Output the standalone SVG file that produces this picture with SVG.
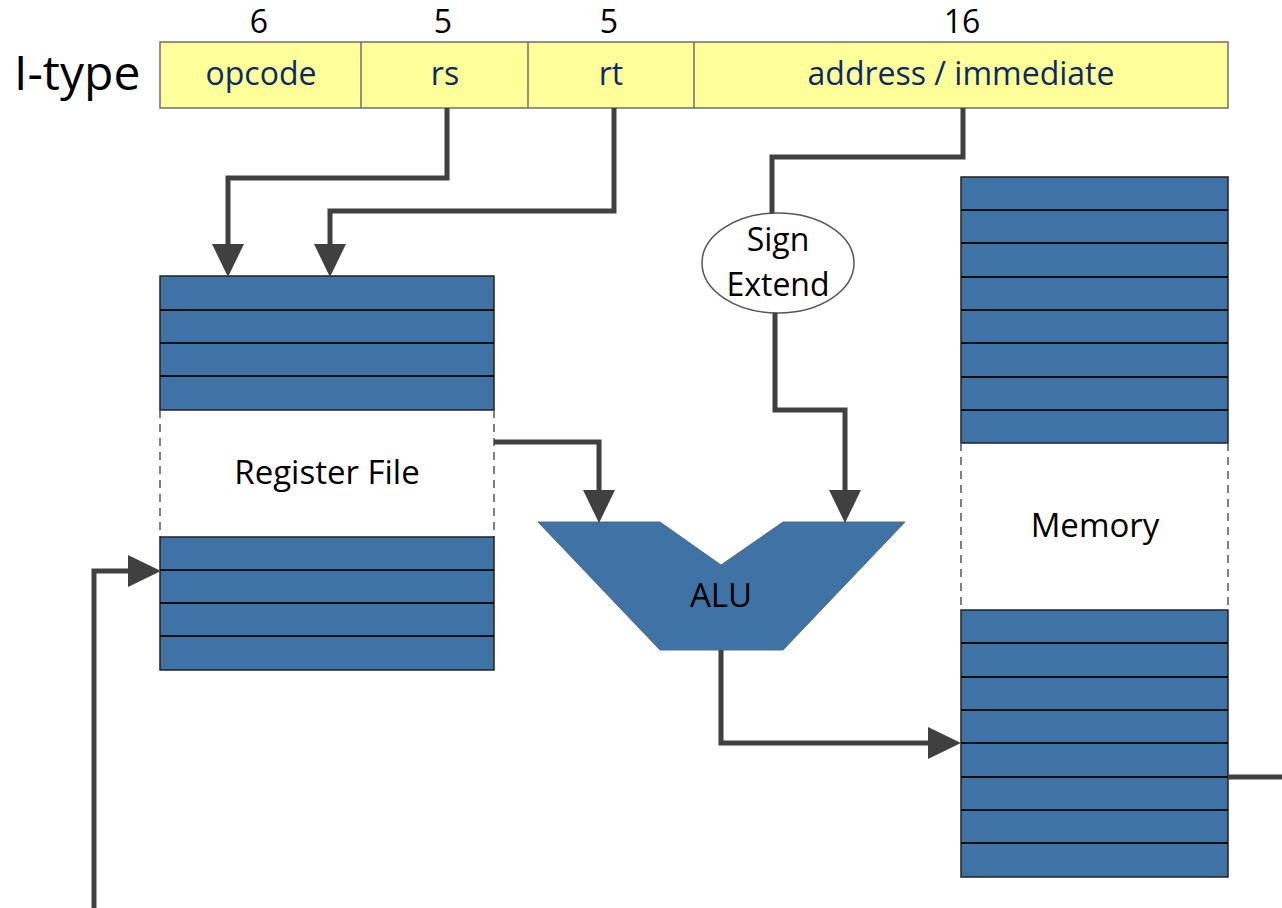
<svg xmlns="http://www.w3.org/2000/svg" width="1282" height="908" viewBox="0 0 1282 908">
<style>
.t{font-family:"Open Sans","Liberation Sans",sans-serif;fill:#000}
.f{font-family:"Open Sans","Liberation Sans",sans-serif;fill:#0c2a66;font-size:32px}
.n{font-family:"Open Sans","Liberation Sans",sans-serif;fill:#000;font-size:32px}
.fld{fill:#ffff99;stroke:#6e6e6e;stroke-width:1.5}
.blk{fill:#3f73a5;stroke:#222;stroke-width:1.5}
.row{stroke:#111;stroke-width:2}
.dash{stroke:#555;stroke-width:1.5;stroke-dasharray:8 6;fill:none}
.w{fill:none;stroke:#404040;stroke-width:5;stroke-linejoin:miter}
.ah{fill:#404040}
</style>
<rect width="1282" height="908" fill="#fff"/>
<text class="t" x="14" y="90" font-size="48">I-type</text>
<g id="instr">
<rect class="fld" x="160" y="42" width="1068" height="66"/>
<line x1="361" y1="42" x2="361" y2="108" stroke="#6e6e6e" stroke-width="1.5"/>
<line x1="528" y1="42" x2="528" y2="108" stroke="#6e6e6e" stroke-width="1.5"/>
<line x1="694" y1="42" x2="694" y2="108" stroke="#6e6e6e" stroke-width="1.5"/>
<text class="f" x="261" y="85" text-anchor="middle">opcode</text>
<text class="f" x="445" y="85" text-anchor="middle">rs</text>
<text class="f" x="611" y="85" text-anchor="middle">rt</text>
<text class="f" x="961" y="85" text-anchor="middle">address / immediate</text>
<text class="n" x="259" y="33" text-anchor="middle">6</text>
<text class="n" x="443" y="33" text-anchor="middle">5</text>
<text class="n" x="609" y="33" text-anchor="middle">5</text>
<text class="n" x="962" y="33" text-anchor="middle">16</text>
</g>
<g id="regfile">
<rect class="blk" x="160" y="276" width="334" height="134"/>
<line class="row" x1="160" y1="310" x2="494" y2="310"/>
<line class="row" x1="160" y1="343" x2="494" y2="343"/>
<line class="row" x1="160" y1="376" x2="494" y2="376"/>
<line class="dash" x1="160" y1="410" x2="160" y2="537"/>
<line class="dash" x1="494" y1="410" x2="494" y2="537"/>
<rect class="blk" x="160" y="537" width="334" height="133"/>
<line class="row" x1="160" y1="570" x2="494" y2="570"/>
<line class="row" x1="160" y1="603" x2="494" y2="603"/>
<line class="row" x1="160" y1="636" x2="494" y2="636"/>
<text class="t" x="327" y="484" font-size="33" text-anchor="middle">Register File</text>
</g>
<g id="signext">
<ellipse cx="778" cy="263" rx="76" ry="50" fill="#fff" stroke="#555" stroke-width="1.5"/>
<text class="t" x="778" y="251" font-size="32" text-anchor="middle">Sign</text>
<text class="t" x="778" y="296" font-size="32" text-anchor="middle">Extend</text>
</g>
<g id="alu">
<polygon points="538,522 660,522 721,565 783,522 905,522 783,650 660,650" fill="#3f73a5" stroke="#5a6a7a" stroke-width="1"/>
<text class="t" x="721" y="607" font-size="33" text-anchor="middle">ALU</text>
</g>
<g id="memory">
<rect class="blk" x="961" y="177" width="267" height="266"/>
<line class="row" x1="961" y1="210" x2="1228" y2="210"/>
<line class="row" x1="961" y1="243" x2="1228" y2="243"/>
<line class="row" x1="961" y1="277" x2="1228" y2="277"/>
<line class="row" x1="961" y1="310" x2="1228" y2="310"/>
<line class="row" x1="961" y1="343" x2="1228" y2="343"/>
<line class="row" x1="961" y1="377" x2="1228" y2="377"/>
<line class="row" x1="961" y1="410" x2="1228" y2="410"/>
<line class="dash" x1="961" y1="443" x2="961" y2="610"/>
<line class="dash" x1="1228" y1="443" x2="1228" y2="610"/>
<rect class="blk" x="961" y="610" width="267" height="267"/>
<line class="row" x1="961" y1="643" x2="1228" y2="643"/>
<line class="row" x1="961" y1="677" x2="1228" y2="677"/>
<line class="row" x1="961" y1="710" x2="1228" y2="710"/>
<line class="row" x1="961" y1="743" x2="1228" y2="743"/>
<line class="row" x1="961" y1="777" x2="1228" y2="777"/>
<line class="row" x1="961" y1="810" x2="1228" y2="810"/>
<line class="row" x1="961" y1="843" x2="1228" y2="843"/>
<text class="t" x="1095" y="537" font-size="33" text-anchor="middle">Memory</text>
</g>
<g id="connectors">
<polyline class="w" points="447,108 447,178 228,178 228,246"/>
<polygon class="ah" points="212,244 244,244 228,277"/>
<polyline class="w" points="614,108 614,211 330,211 330,246"/>
<polygon class="ah" points="314,244 346,244 330,277"/>
<polyline class="w" points="963,108 963,157 772,157 772,213"/>
<polyline class="w" points="775,313 775,410 845,410 845,492"/>
<polygon class="ah" points="829,490 861,490 845,523"/>
<polyline class="w" points="494,442 599,442 599,492"/>
<polygon class="ah" points="583,490 615,490 599,523"/>
<polyline class="w" points="721,650 721,743 930,743"/>
<polygon class="ah" points="928,727 928,759 961,743"/>
<polyline class="w" points="94,908 94,571 130,571"/>
<polygon class="ah" points="128,555 128,587 161,571"/>
<line class="w" x1="1228" y1="777" x2="1282" y2="777"/>
</g>
</svg>
